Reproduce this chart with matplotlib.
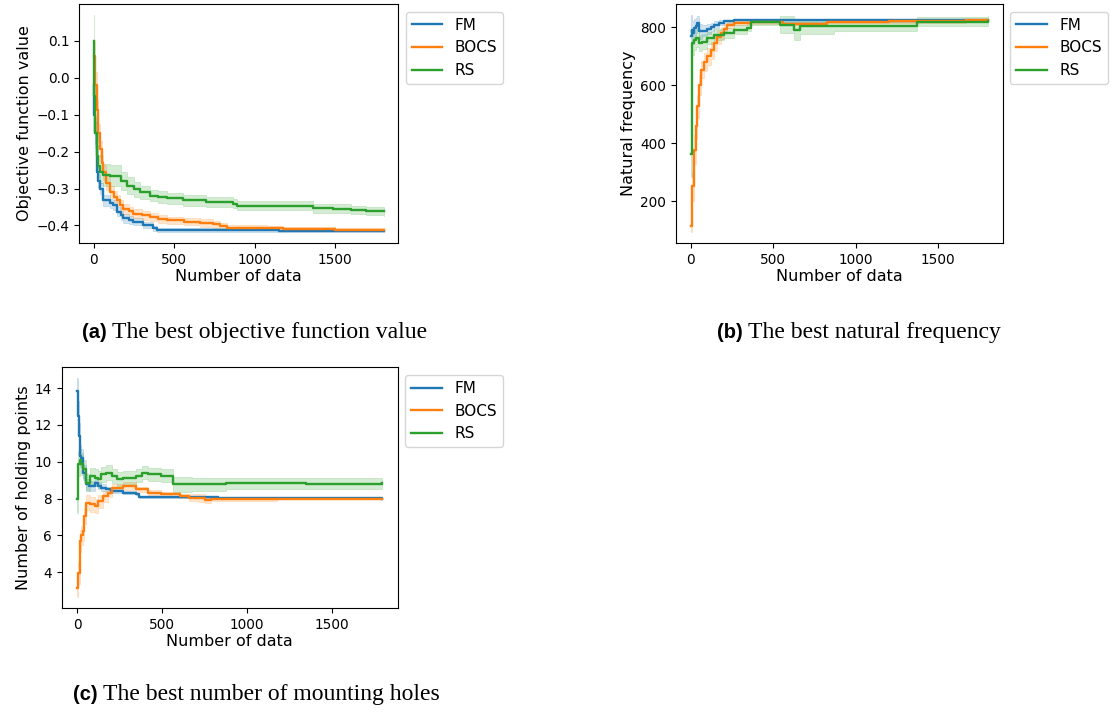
import numpy as np
import matplotlib
matplotlib.use('Agg')
import matplotlib.pyplot as plt

labels = ['FM', 'BOCS', 'RS']
colors = ['#1f77b4', '#ff7f0e', '#2ca02c']

# (a) objective function value
a_fm_x = [0, 5, 10, 20, 30, 41, 62, 100, 124, 145, 170, 186, 220, 248, 310, 372, 393, 1150, 1800]
a_fm_y = [-0.02, -0.10, -0.15, -0.256, -0.28, -0.30, -0.332, -0.34, -0.345, -0.363, -0.372, -0.381,
          -0.385, -0.39, -0.399, -0.408, -0.412, -0.414, -0.415]
a_fm_e = [0.04, 0.035, 0.03, 0.02, 0.018, 0.016, 0.015, 0.013, 0.013, 0.012, 0.012, 0.012,
          0.011, 0.01, 0.008, 0.006, 0.005, 0.003, 0.003]
a_bocs_x = [0, 10, 20, 30, 41, 50, 62, 80, 103, 125, 145, 165, 186, 220, 248, 300, 351, 400, 455,
            560, 661, 740, 785, 826, 1074, 1178, 1500, 1800]
a_bocs_y = [0.06, -0.02, -0.087, -0.15, -0.194, -0.23, -0.256, -0.285, -0.31, -0.322, -0.332, -0.345,
            -0.355, -0.362, -0.368, -0.372, -0.377, -0.382, -0.386, -0.39, -0.393, -0.397, -0.402,
            -0.406, -0.407, -0.409, -0.411, -0.413]
a_bocs_e = [0.04, 0.035, 0.03, 0.025, 0.022, 0.02, 0.02, 0.018, 0.016, 0.015, 0.015, 0.014,
            0.014, 0.013, 0.012, 0.012, 0.011, 0.011, 0.01, 0.01, 0.01, 0.009, 0.008,
            0.006, 0.005, 0.004, 0.003, 0.003]
a_rs_x = [0, 5, 10, 20, 30, 41, 62, 100, 145, 170, 207, 250, 290, 351, 400, 455, 558, 700, 868, 888,
          1150, 1364, 1488, 1600, 1694, 1800]
a_rs_y = [0.1, -0.05, -0.15, -0.212, -0.24, -0.256, -0.263, -0.265, -0.265, -0.28, -0.292, -0.302,
          -0.31, -0.319, -0.323, -0.326, -0.332, -0.337, -0.341, -0.346, -0.347, -0.353, -0.355,
          -0.357, -0.36, -0.362]
a_rs_e = [0.07, 0.05, 0.04, 0.03, 0.03, 0.03, 0.03, 0.028, 0.028, 0.025, 0.022, 0.02, 0.018, 0.016,
          0.015, 0.015, 0.014, 0.013, 0.013, 0.013, 0.012, 0.012, 0.012, 0.011, 0.011, 0.011]

# (b) natural frequency
b_fm_x = [0, 5, 10, 20, 30, 40, 50, 70, 100, 120, 141, 170, 201, 262, 1800]
b_fm_y = [770, 790, 780, 797, 805, 814, 785, 788, 793, 800, 808, 815, 819.5, 823, 823]
b_fm_e = [72, 50, 40, 30, 25, 25, 25, 20, 18, 15, 12, 8, 6, 4, 4]
b_bocs_x = [0, 5, 10, 20, 30, 40, 50, 60, 80, 100, 120, 141, 160, 181, 200, 221, 262, 362, 503, 560,
            664, 825, 1200, 1671, 1800]
b_bocs_y = [114, 180, 252, 378, 460, 527, 600, 653, 680, 699, 720, 745, 765, 779, 795, 808, 814, 818,
            816, 812, 810, 819, 820, 823, 823]
b_bocs_e = [20, 40, 50, 50, 45, 40, 35, 30, 30, 30, 30, 28, 25, 20, 15, 10, 8, 6, 6, 6, 6, 5, 5, 5, 5]
b_rs_x = [0, 5, 10, 20, 30, 50, 70, 100, 141, 201, 262, 342, 362, 523, 543, 624, 664, 866, 1369, 1800]
b_rs_y = [364, 594, 745, 755, 762, 745, 750, 762, 774, 779, 791, 797, 816, 819, 808, 791, 802, 805,
          819, 822]
b_rs_e = [80, 60, 40, 35, 30, 28, 25, 22, 20, 18, 15, 12, 10, 10, 30, 35, 25, 20, 16, 15]

# (c) number of holding points
c_fm_x = [0, 5, 9, 15, 24, 33, 52, 70, 107, 125, 144, 170, 199, 273, 347, 365, 830, 1800]
c_fm_y = [13.84, 12.5, 11.4, 10.3, 10.2, 9.4, 8.77, 8.68, 8.86, 8.7, 8.6, 8.5, 8.41, 8.32, 8.23, 8.1,
          8.05, 8.0]
c_fm_e = [0.7, 0.8, 0.7, 0.6, 0.5, 0.4, 0.3, 0.25, 0.2, 0.2, 0.2, 0.15, 0.1, 0.08, 0.06, 0.05, 0.05, 0.02]
c_bocs_x = [0, 5, 15, 25, 33, 42, 52, 79, 107, 125, 153, 181, 208, 273, 347, 421, 494, 605, 660, 716,
            753, 790, 1180, 1800]
c_bocs_y = [3.13, 3.95, 5.68, 6.0, 6.22, 7.04, 7.77, 7.68, 7.59, 7.86, 8.13, 8.32, 8.59, 8.68, 8.5,
            8.32, 8.23, 8.13, 8.05, 8.04, 7.92, 7.99, 8.0, 8.0]
c_bocs_e = [0.5, 0.6, 0.6, 0.5, 0.5, 0.45, 0.4, 0.4, 0.4, 0.35, 0.3, 0.25, 0.2, 0.2, 0.15, 0.12, 0.12,
            0.12, 0.2, 0.2, 0.15, 0.1, 0.03, 0.03]
c_rs_x = [0, 5, 15, 25, 33, 52, 79, 107, 125, 144, 172, 208, 236, 273, 347, 384, 421, 494, 568, 679,
          880, 1350, 1800]
c_rs_y = [8.0, 9.9, 10.1, 9.9, 9.6, 8.86, 9.23, 9.14, 9.05, 9.32, 9.41, 9.23, 9.05, 9.14, 9.23, 9.41,
          9.32, 9.23, 8.77, 8.77, 8.83, 8.8, 8.83]
c_rs_e = [0.8, 0.7, 0.6, 0.6, 0.5, 0.45, 0.45, 0.45, 0.45, 0.4, 0.4, 0.4, 0.4, 0.35, 0.35, 0.35, 0.35,
          0.35, 0.4, 0.35, 0.3, 0.3, 0.3]

panels = [
    ([(a_fm_x, a_fm_y, a_fm_e), (a_bocs_x, a_bocs_y, a_bocs_e), (a_rs_x, a_rs_y, a_rs_e)],
     'Objective function value', '(a)', 'The best objective function value'),
    ([(b_fm_x, b_fm_y, b_fm_e), (b_bocs_x, b_bocs_y, b_bocs_e), (b_rs_x, b_rs_y, b_rs_e)],
     'Natural frequency', '(b)', 'The best natural frequency'),
    ([(c_fm_x, c_fm_y, c_fm_e), (c_bocs_x, c_bocs_y, c_bocs_e), (c_rs_x, c_rs_y, c_rs_e)],
     'Number of holding points', '(c)', 'The best number of mounting holes'),
]

W, H = 1111, 716
fig = plt.figure(figsize=(W / 100, H / 100), dpi=100)
# axes boxes in pixels: left, top, right, bottom
boxes = [(79, 4, 398, 243), (676, 4, 1002.5, 243), (61.7, 367.3, 397.7, 608.3)]
# caption start (x) and baseline (y) in pixels
caps = [(82, 338), (717, 338), (73, 700)]

for (series, ylab, tag, cap), box, (cx, cy) in zip(panels, boxes, caps):
    l, t, r, b = box
    ax = fig.add_axes([l / W, 1 - b / H, (r - l) / W, (b - t) / H])
    for (x, y, e), lab, col in zip(series, labels, colors):
        x = np.array(x, dtype=float)
        y = np.array(y, dtype=float)
        e = np.array(e, dtype=float)
        ax.fill_between(x, y - e, y + e, step='post', color=col, alpha=0.2, linewidth=0.6)
        ax.plot(x, y, drawstyle='steps-post', color=col, lw=1.7, label=lab)
    ax.set_xlabel('Number of data', fontsize=11.5, labelpad=1.5)
    ax.set_ylabel(ylab, fontsize=11.5, labelpad=3)
    ax.set_xticks([0, 500, 1000, 1500])
    ax.tick_params(labelsize=9.8)
    ax.legend(loc='upper left', bbox_to_anchor=(1.0, 1.0), fontsize=11)

    t1 = fig.text(cx / W, 1 - cy / H, tag, family='Liberation Sans', weight='bold',
                  fontsize=14.5, va='baseline', ha='left')
    fig.canvas.draw()
    bb = t1.get_window_extent()
    fig.text((bb.x1 + 5) / W, 1 - cy / H, cap, family='Liberation Serif',
             fontsize=17, va='baseline', ha='left')

fig.savefig('out.png', dpi=100)
